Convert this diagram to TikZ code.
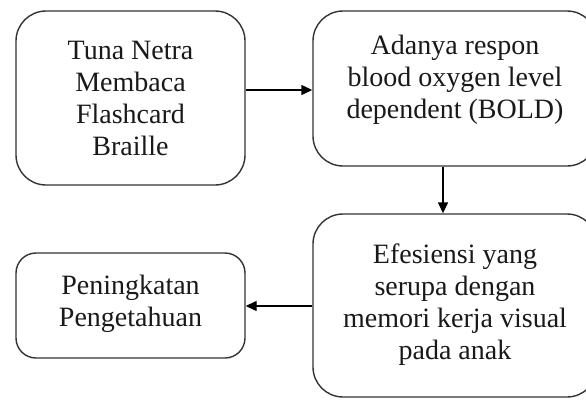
\documentclass[tikz,border=0pt]{standalone}
\usepackage{fontspec}
\setmainfont{Liberation Serif}
\usetikzlibrary{arrows.meta}
\begin{document}
\begin{tikzpicture}[x=1pt,y=1pt,
  box/.style={draw=black!80, line width=1.4pt, fill=white, inner sep=0pt},
  txt/.style={align=center, font=\fontsize{28}{32}\selectfont, text=black!90},
  arr/.style={line width=1.4pt, draw=black, -{Triangle[length=11pt,width=10pt]}}]
\useasboundingbox (0,0) rectangle (586,-399);
\node[box, rounded corners=30pt, minimum width=229pt, minimum height=174pt] (b1) at (130.5,-98) {};
\node[txt] (t1) at (b1) {Tuna Netra\\Membaca\\Flashcard\\Braille};
\node[box, rounded corners=30pt, minimum width=284pt, minimum height=155pt] (b2) at (455,-88.5) {};
\node[txt] (t2) at ([yshift=9pt]b2.center) {Adanya respon\\blood oxygen level\\dependent (BOLD)};
\node[box, rounded corners=30pt, minimum width=284pt, minimum height=183pt] (b3) at (455,-305.5) {};
\node[txt] (t3) at ([yshift=1pt]b3.center) {Efesiensi yang\\serupa dengan\\memori kerja visual\\pada anak};
\node[box, rounded corners=20pt, minimum width=229pt, minimum height=105pt] (b4) at (130.5,-305.5) {};
\node[txt] (t4) at ([yshift=2pt]b4.center) {Peningkatan\\Pengetahuan};
\coordinate (y1) at (0,-90);
\coordinate (x2) at (443,0);
\coordinate (y3) at (0,-306);
\draw[arr] (b1.east |- y1) -- (b2.west |- y1);
\draw[arr] (b2.south -| x2) -- (b3.north -| x2);
\draw[arr] (b3.west |- y3) -- (b4.east |- y3);
\end{tikzpicture}
\end{document}
